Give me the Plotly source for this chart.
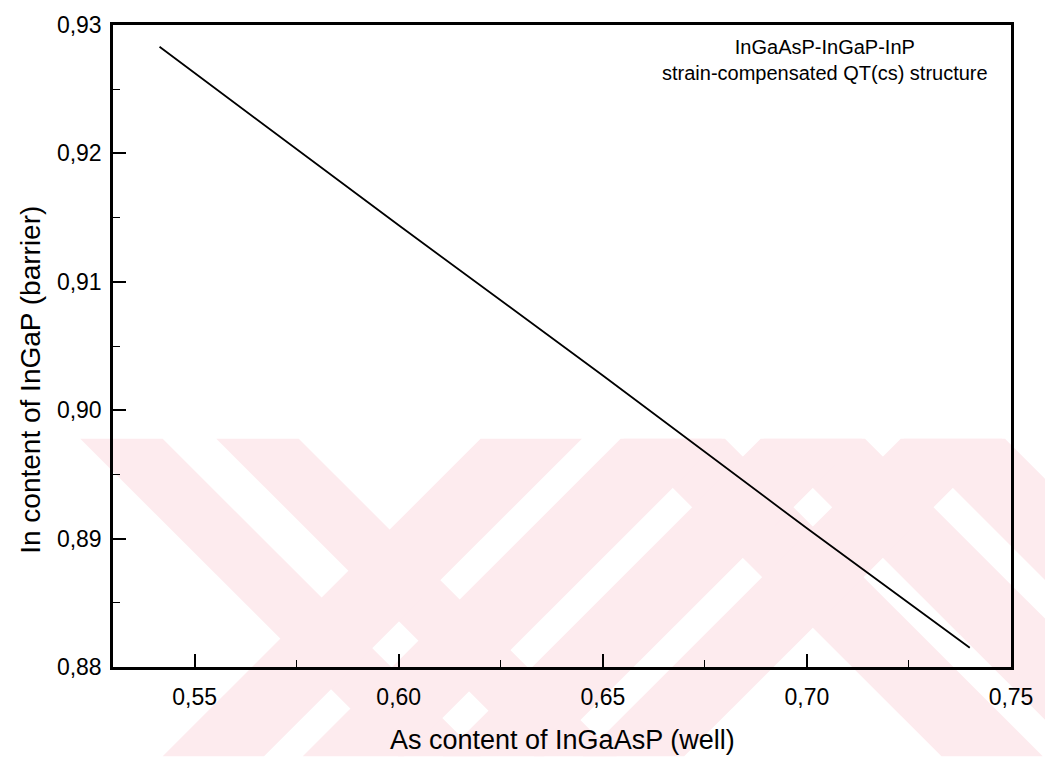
import plotly.graph_objects as go

# Barrier In fraction needed for strain compensation vs. well As fraction
as_content = [0.5414, 0.60, 0.65, 0.70, 0.7399]
in_content = [0.9283, 0.9144, 0.9027, 0.8908, 0.8815]

x_tick_vals = [0.55, 0.60, 0.65, 0.70, 0.75]
x_tick_text = ["0,55", "0,60", "0,65", "0,70", "0,75"]
y_tick_vals = [0.88, 0.89, 0.90, 0.91, 0.92, 0.93]
y_tick_text = ["0,88", "0,89", "0,90", "0,91", "0,92", "0,93"]

FONT = "Liberation Sans, Arial, sans-serif"

W, H = 1045, 757
ML, MR, MT, MB = 113, 28, 20, 90

fig = go.Figure()
fig.add_trace(go.Scatter(
    x=as_content, y=in_content, mode="lines",
    line=dict(color="black", width=1.8),
    showlegend=False, hoverinfo="skip",
))

# ---- faint diagonal-stripe page watermark (page pixel geometry) ----
WM_TOP, WM_BOTTOM = 437, H
WM_COLOR = "#fdebee"
# "\" stripes given by x - y offsets, "/" stripes by x + y offsets
back_stripes = [(-357, -274), (-220, -137), (190, 292), (331, 433), (472, 574)]
fwd_stripes = [(920, 1022), (1061, 1163), (1202, 1304), (1343, 1445)]


def to_paper(px, py):
    return (px - ML) / (W - ML - MR), (H - MB - py) / (H - MT - MB)


def poly_path(points):
    pts = [to_paper(px, py) for px, py in points]
    return "M " + " L ".join(f"{a:.5f},{b:.5f}" for a, b in pts) + " Z"


for c0, c1 in back_stripes:
    quad = [(c0 + WM_TOP, WM_TOP), (c1 + WM_TOP, WM_TOP),
            (c1 + WM_BOTTOM, WM_BOTTOM), (c0 + WM_BOTTOM, WM_BOTTOM)]
    fig.add_shape(type="path", path=poly_path(quad), xref="paper", yref="paper",
                  fillcolor=WM_COLOR, line=dict(width=0), layer="below")
for s0, s1 in fwd_stripes:
    quad = [(s0 - WM_TOP, WM_TOP), (s1 - WM_TOP, WM_TOP),
            (s1 - WM_BOTTOM, WM_BOTTOM), (s0 - WM_BOTTOM, WM_BOTTOM)]
    fig.add_shape(type="path", path=poly_path(quad), xref="paper", yref="paper",
                  fillcolor=WM_COLOR, line=dict(width=0), layer="below")

axis_common = dict(
    showgrid=False, zeroline=False,
    showline=True, linecolor="black", linewidth=2.5, mirror=True,
    ticks="inside", ticklen=13, tickwidth=1.6, tickcolor="black",
    tickfont=dict(family=FONT, size=23, color="black"),
)

fig.update_xaxes(
    range=[0.53, 0.75], tickvals=x_tick_vals, ticktext=x_tick_text,
    minor=dict(ticks="inside", ticklen=7, tickwidth=1.4, tickcolor="black",
               tickvals=[0.575, 0.625, 0.675, 0.725]),
    ticklabelstandoff=8,
    **axis_common,
)
fig.update_yaxes(
    range=[0.88, 0.93], tickvals=y_tick_vals, ticktext=y_tick_text,
    minor=dict(ticks="inside", ticklen=7, tickwidth=1.4, tickcolor="black",
               tickvals=[0.885, 0.895, 0.905, 0.915, 0.925]),
    ticklabelstandoff=4,
    **axis_common,
)

fig.add_annotation(
    text="As content of InGaAsP (well)", xref="paper", yref="paper",
    x=0.5007, y=-0.113, xanchor="center", yanchor="middle", showarrow=False,
    font=dict(family=FONT, size=27, color="black"),
)
fig.add_annotation(
    text="In content of InGaP (barrier)", xref="paper", yref="paper",
    x=-0.0927, y=0.447, xanchor="center", yanchor="middle", showarrow=False,
    textangle=-90, font=dict(family=FONT, size=28, color="black"),
)
fig.add_annotation(
    text="InGaAsP-InGaP-InP<br>strain-compensated QT(cs) structure",
    xref="paper", yref="paper", x=0.793, y=0.945,
    xanchor="center", yanchor="middle", showarrow=False, align="center",
    font=dict(family=FONT, size=20, color="black"),
)

fig.update_layout(
    width=W, height=H,
    margin=dict(l=ML, r=MR, t=MT, b=MB),
    paper_bgcolor="white", plot_bgcolor="white",
    showlegend=False,
)

fig.write_html("out.html")
